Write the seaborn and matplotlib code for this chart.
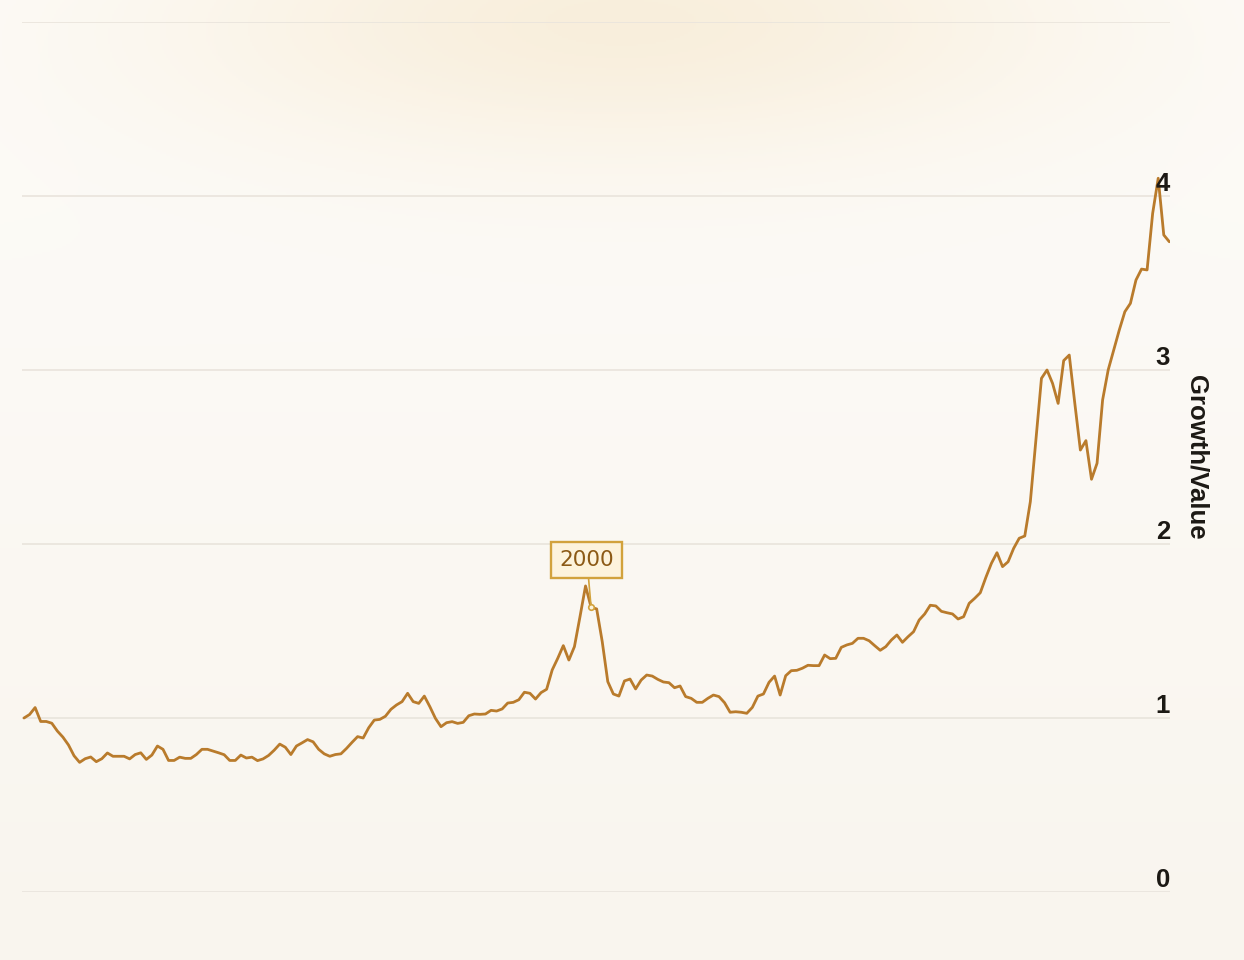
import numpy as np
import seaborn as sns
import matplotlib.pyplot as plt
from matplotlib.colors import to_rgb

# quarterly ratio of growth to value
ratio = [
    1.00, 1.02, 1.06, 0.98, 0.98, 0.97, 0.925, 0.89, 0.845, 0.783,
    0.745, 0.766, 0.776, 0.749, 0.766, 0.799, 0.78, 0.78, 0.78, 0.765,
    0.79, 0.80, 0.762, 0.787, 0.839, 0.82, 0.756, 0.756, 0.775, 0.768,
    0.768, 0.79, 0.82, 0.82, 0.81, 0.80, 0.789, 0.756, 0.756, 0.787,
    0.77, 0.775, 0.755, 0.765, 0.785, 0.815, 0.85, 0.832, 0.79, 0.839,
    0.857, 0.876, 0.863, 0.82, 0.794, 0.78, 0.79, 0.794, 0.825, 0.86,
    0.893, 0.885, 0.944, 0.988, 0.992, 1.01, 1.05, 1.075,
    1.094, 1.142, 1.094, 1.084, 1.126, 1.065, 0.998, 0.950, 0.973, 0.979,
    0.969, 0.975, 1.013, 1.023, 1.021, 1.023, 1.044, 1.040, 1.052, 1.086,
    1.090, 1.105, 1.148, 1.142, 1.109, 1.146, 1.165, 1.276, 1.343, 1.416,
    1.333, 1.410, 1.582, 1.759, 1.636, 1.627, 1.439,
    1.209, 1.138, 1.126, 1.213, 1.224, 1.167, 1.218, 1.247, 1.241, 1.222,
    1.207, 1.203, 1.174, 1.184, 1.123, 1.113, 1.090, 1.090, 1.113, 1.132,
    1.123, 1.088, 1.033, 1.036, 1.033, 1.027, 1.061, 1.126, 1.138, 1.205,
    1.241, 1.132, 1.243, 1.272, 1.274,
    1.286, 1.303, 1.301, 1.301, 1.362, 1.341, 1.343, 1.406, 1.420, 1.429,
    1.458, 1.458, 1.444, 1.416, 1.389, 1.410, 1.448, 1.477, 1.435, 1.467,
    1.496, 1.563, 1.598, 1.648, 1.644, 1.613, 1.605, 1.598, 1.569, 1.582,
    1.659, 1.688, 1.720, 1.808, 1.889, 1.950, 1.870, 1.898,
    1.975, 2.033, 2.046, 2.243, 2.598, 2.952, 3.000, 2.923, 2.808, 3.054,
    3.086, 2.808, 2.540, 2.594, 2.372, 2.464, 2.828, 3.000, 3.115, 3.230,
    3.335, 3.383, 3.517, 3.580, 3.575, 3.900, 4.102, 3.776, 3.737,
]
start_year = 1974.5
years = start_year + 0.25 * np.arange(len(ratio))

y_ticks = [0, 1, 2, 3, 4]
y_tick_labels = ['0', '1', '2', '3', '4']
grid_levels = [0, 1, 2, 3, 4, 5]
note_year = 2000
note_text = '2000'

LINE = '#b97b2c'
GOLD = '#d2a23c'
INK = '#1c1914'

sns.set_theme(style='white')
plt.rcParams['font.family'] = ['Liberation Sans', 'DejaVu Sans']

fig = plt.figure(figsize=(12.44, 9.6), dpi=100)

# warm paper background with a soft glow near the top
bg = fig.add_axes([0, 0, 1, 1], zorder=-10)
h, w = 480, 622
yy, xx = np.mgrid[0:h, 0:w]
t = yy / (h - 1)
top = np.array(to_rgb('#fdfcf9'))
bot = np.array(to_rgb('#f9f5ee'))
img = top[None, None, :] * (1 - t[..., None]) + bot[None, None, :] * t[..., None]
glow = np.exp(-(((xx - 310) / 230.0) ** 2 + ((yy - 10) / 70.0) ** 2))
gcol = np.array(to_rgb('#f7e9d0'))
img = img * (1 - 0.7 * glow[..., None]) + gcol[None, None, :] * 0.7 * glow[..., None]
bg.imshow(img, aspect='auto', extent=[0, 1, 0, 1], origin='upper')
bg.axis('off')

ax = fig.add_axes([22 / 1244, 1 - 892 / 960, 1148 / 1244, 870 / 960])
ax.patch.set_alpha(0)

sns.lineplot(x=years, y=ratio, ax=ax, color=LINE, linewidth=2.0, zorder=3)

ax.set_xlim(start_year - 0.09, years[-1] + 0.03)
ax.set_ylim(0, 5)
ax.set_yticks(grid_levels)
ax.set_xticks([])
ax.yaxis.grid(True, color='#e9e4dc', linewidth=1.2)
ax.tick_params(axis='y', length=0, labelleft=False, labelright=False)
for s in ax.spines.values():
    s.set_visible(False)

for v, lab in zip(y_ticks, y_tick_labels):
    ax.text(1.0, v, lab, transform=ax.get_yaxis_transform(), ha='right',
            va='bottom', fontsize=18.5, fontweight='bold', color=INK, zorder=5)

fig.text(1196 / 1244, 1 - 457 / 960, 'Growth/Value', rotation=270,
         ha='center', va='center', fontsize=18.5, fontweight='bold', color=INK)

note_y = np.interp(note_year, years, ratio)
ax.annotate(note_text, xy=(note_year, note_y), xytext=(-3, 34),
            textcoords='offset points', ha='center', va='center',
            fontsize=15.5, color='#8c5a16', family=['DejaVu Sans'],
            bbox=dict(boxstyle='square,pad=0.38', fc='#fdf3dc', ec=GOLD, lw=1.7),
            arrowprops=dict(arrowstyle='-', color=GOLD, lw=1.2,
                            shrinkA=0, shrinkB=0),
            zorder=6)
ax.plot([note_year], [note_y], marker='o', markersize=4, mfc='#fdf3dc',
        mec=GOLD, mew=1.2, zorder=6)

fig.savefig('out.png', dpi=100)
